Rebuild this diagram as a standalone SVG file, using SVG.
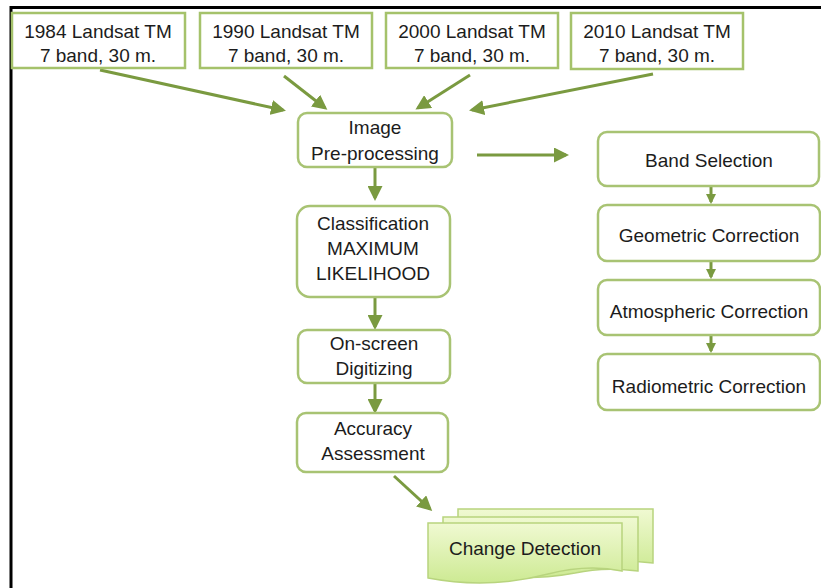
<svg xmlns="http://www.w3.org/2000/svg" width="821" height="588" viewBox="0 0 821 588">
<defs>
<style>
.sq{fill:#fff;stroke:#a5c26b;stroke-width:2.5}
.rd{fill:#fff;stroke:#a8c373;stroke-width:2.5}
.t{font-family:"Liberation Sans",Arial,sans-serif;font-size:19px;fill:#1c1c1c;text-anchor:middle;dominant-baseline:central}
.c{stroke:#7a9a40;stroke-width:3;fill:none;marker-end:url(#ah)}
.cs{stroke:#7a9a40;stroke-width:3;fill:none;marker-end:url(#ahs)}
.doc{fill:url(#g);stroke:#b8d47e;stroke-width:1.5}
</style>
<marker id="ah" viewBox="0 0 10 10" refX="8" refY="5" markerWidth="5" markerHeight="5" orient="auto" markerUnits="strokeWidth">
<path d="M0,0 L10,5 L0,10 Z" fill="#7a9a40"/>
</marker>
<marker id="ahs" viewBox="0 0 10 10" refX="8" refY="5" markerWidth="3.5" markerHeight="3.5" orient="auto" markerUnits="strokeWidth">
<path d="M0,0 L10,5 L0,10 Z" fill="#7a9a40"/>
</marker>
<linearGradient id="g" x1="0" y1="0" x2="0" y2="1">
<stop offset="0" stop-color="#f0f9d2"/>
<stop offset="1" stop-color="#cdea93"/>
</linearGradient>
</defs>
<rect width="821" height="588" fill="#fff"/>
<path d="M11,588 V7.5 H821" fill="none" stroke="#000" stroke-width="3"/>

<g id="connectors">
<line class="c" x1="100" y1="70" x2="283" y2="110"/>
<line class="c" x1="284" y1="76" x2="325" y2="108"/>
<line class="c" x1="470" y1="75" x2="418" y2="108"/>
<line class="c" x1="653" y1="74" x2="472" y2="110"/>
<line class="c" x1="477" y1="155" x2="566" y2="155"/>
<line class="c" x1="375" y1="168" x2="375" y2="198"/>
<line class="c" x1="375" y1="298" x2="375" y2="327"/>
<line class="c" x1="375" y1="384" x2="375" y2="411"/>
<line class="c" x1="394" y1="476" x2="430" y2="509"/>
<line class="cs" x1="711" y1="187" x2="711" y2="202"/>
<line class="cs" x1="711" y1="262" x2="711" y2="277"/>
<line class="cs" x1="711" y1="336" x2="711" y2="351"/>
</g>

<g id="n1984"><rect class="sq" x="12" y="13" width="173" height="55"/><text class="t" x="98" y="31">1984 Landsat TM</text><text class="t" x="98" y="55">7 band, 30 m.</text></g>
<g id="n1990"><rect class="sq" x="200" y="13" width="172" height="55"/><text class="t" x="286" y="31">1990 Landsat TM</text><text class="t" x="286" y="55">7 band, 30 m.</text></g>
<g id="n2000"><rect class="sq" x="386" y="13" width="172" height="55"/><text class="t" x="472" y="31">2000 Landsat TM</text><text class="t" x="472" y="55">7 band, 30 m.</text></g>
<g id="n2010"><rect class="sq" x="571" y="13" width="172" height="56"/><text class="t" x="657" y="31">2010 Landsat TM</text><text class="t" x="657" y="55">7 band, 30 m.</text></g>

<g id="preprocessing"><rect class="rd" x="298" y="113" width="154" height="54" rx="9"/><text class="t" x="375" y="127">Image</text><text class="t" x="375" y="153">Pre-processing</text></g>
<g id="classification"><rect class="rd" x="297" y="206" width="153" height="91" rx="13"/><text class="t" x="373" y="223">Classification</text><text class="t" x="373" y="248">MAXIMUM</text><text class="t" x="373" y="273">LIKELIHOOD</text></g>
<g id="digitizing"><rect class="rd" x="298" y="330" width="152" height="53" rx="9"/><text class="t" x="374" y="343">On-screen</text><text class="t" x="374" y="368">Digitizing</text></g>
<g id="accuracy"><rect class="rd" x="297" y="413" width="151" height="59" rx="9"/><text class="t" x="373" y="428">Accuracy</text><text class="t" x="373" y="453">Assessment</text></g>

<g id="changedetection">
<path class="doc" d="M458,509 H653 V563 C630,560 612,560 590,565 C560,571 520,572 458,566 Z"/>
<path class="doc" d="M443,517 H638 V571 C615,568 597,568 575,573 C545,579 505,580 443,574 Z"/>
<path class="doc" d="M428,523 H622 V571 C598,566 575,567 548,574 C510,584 470,586 428,578 Z"/>
<text class="t" x="525" y="548">Change Detection</text>
</g>

<g id="bandselection"><rect class="rd" x="598" y="132" width="221" height="54" rx="9"/><text class="t" x="709" y="160">Band Selection</text></g>
<g id="geometric"><rect class="rd" x="598" y="205" width="222" height="56" rx="9"/><text class="t" x="709" y="235">Geometric Correction</text></g>
<g id="atmospheric"><rect class="rd" x="598" y="280" width="222" height="55" rx="9"/><text class="t" x="709" y="311">Atmospheric Correction</text></g>
<g id="radiometric"><rect class="rd" x="598" y="354" width="222" height="56" rx="9"/><text class="t" x="709" y="386">Radiometric Correction</text></g>
</svg>
